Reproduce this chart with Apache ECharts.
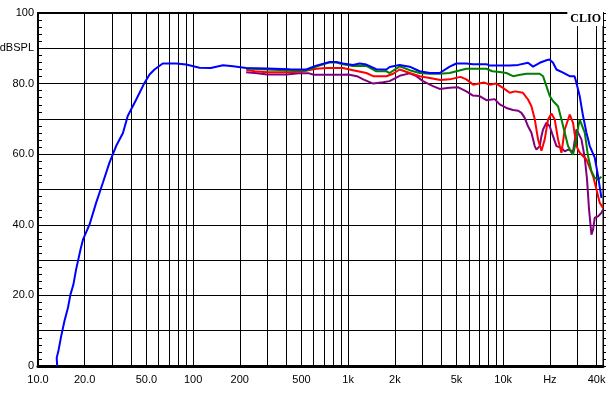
<!DOCTYPE html>
<html>
<head>
<meta charset="utf-8">
<script src="https://cdn.jsdelivr.net/npm/echarts@6/dist/echarts.min.js"></script>
<style>
html,body{margin:0;padding:0;background:#fff;}
#chart{width:610px;height:393px;}
</style>
</head>
<body>
<div id="chart"></div>
<script>
// ---- data (frequency Hz, dB SPL) ----
const blueData = [[13.3,0],[13.2,2.3],[13.6,4.7],[14.1,8.4],[14.8,12.7],[15.6,16.5],[16.2,20.3],[16.9,23],[17.6,27.3],[18.2,30.2],[18.8,33],[19.5,35.8],[21.5,40.1],[23.7,46.2],[26.2,51.9],[28.9,57.6],[31.9,62.3],[35.3,66],[37.9,70.8],[43,75.5],[48.6,80.2],[52.4,82.6],[56.4,84],[63.7,85.7],[78,85.7],[90.2,85.4],[110,84.5],[130,84.4],[156,85.2],[181,84.9],[220,84.4],[300,84.3],[420,84.1],[537,84],[623,85.1],[760,86.1],[840,86.1],[925,85.7],[1074,85.3],[1186,85.7],[1310,85.4],[1520,84.1],[1763,84],[1852,84.7],[2148,85.3],[2494,84.8],[2893,83.5],[3356,83],[3892,83],[4516,84.8],[4989,85.7],[5788,85.7],[6383,85.5],[7792,85.5],[8185,85.1],[9493,85.1],[11013,85.1],[12500,85.3],[14454,85.9],[15570,84.8],[17198,85.9],[18996,86.6],[19953,86.8],[20955,85.9],[22039,84],[24311,83.1],[26853,82.1],[28840,82.1],[29666,80.2],[31153,76.4],[32719,70.8],[34420,66.1],[36152,62.3],[38933,59],[40890,53.8],[43006,47.6]];

const greenData = [[220,84.3],[300,84],[420,83.7],[537,83.7],[623,84.8],[760,86],[840,86],[925,85.5],[1074,85],[1310,85],[1520,83.5],[1763,83.5],[1852,83],[2148,84.9],[2494,83.8],[2893,83],[3356,82.8],[3892,82.8],[4516,83],[4989,83.5],[5788,84.2],[7054,84.2],[7792,84.2],[8500,83.5],[9493,83.3],[10486,83],[11567,82.1],[12880,82.5],[14114,82.8],[17198,82.8],[18062,82.1],[18996,79.3],[19953,76.5],[21000,75],[22568,73.6],[23742,69.8],[24937,66.1],[26189,62.3],[27500,60.5],[28204,59.9],[29666,64.2],[30376,67.5],[31153,69.8],[31952,69.8],[33561,66.1],[35248,59.4],[37068,55.2],[38933,53.3],[40890,52.8],[43006,53.6]];

const redData = [[220,83.9],[250,83.5],[300,83.2],[420,83.2],[500,83.4],[623,84.2],[730,84.4],[925,84.4],[1074,83.8],[1310,83],[1450,82.1],[1763,82.1],[1950,82.8],[2148,84],[2494,83],[2893,82.1],[3356,81.6],[3934,81],[4516,81.2],[5300,81.9],[5788,81.2],[6400,79.7],[7500,80.3],[8185,79.7],[9000,80],[9970,78.8],[11013,77.4],[11950,77.8],[13400,77.4],[14454,75.5],[15204,73.6],[15965,70],[16768,64.2],[17639,61],[18522,64.2],[19452,69.8],[20464,71.5],[21492,69.8],[22568,64.2],[23742,60.4],[24937,67],[26853,71.2],[28204,68.9],[29666,62.3],[31153,60.4],[34420,58.5],[37966,53.8],[39930,50],[41940,46.2],[44000,44.8]];

const purpleData = [[220,83.2],[260,82.9],[300,82.6],[400,82.6],[480,82.9],[560,82.9],[600,82.5],[925,82.5],[1000,82.6],[1140,82.1],[1250,81.2],[1450,80],[1680,80.4],[1850,80.7],[2148,82.2],[2494,82.9],[2754,82.1],[3039,80.7],[3524,79.3],[3892,78.5],[4516,78.8],[5100,79],[5788,77.8],[6383,76.6],[7000,76.5],[7792,75.3],[8800,75.6],[9493,74.1],[10486,73.1],[11567,72.5],[12500,72.3],[13106,71.7],[13764,70.3],[14454,67.9],[15204,66.1],[15965,62.3],[16375,61.3],[16768,61.3],[17198,62.3],[17639,65.1],[18062,67],[18996,68.9],[19953,67.9],[20955,65.1],[22039,62.3],[23742,61.8],[24937,60.8],[26189,61.3],[28204,60.8],[29666,67],[30376,67.5],[31952,64.2],[33561,59],[34721,52.8],[35772,44.3],[37068,37.2],[37966,38.7],[38933,42],[40890,42.4],[43006,43.4],[44000,44.3]];

// x tick labels
const xTickValues = [10, 20, 50, 100, 200, 500, 1000, 2000, 5000, 10000, 20000, 40000];
const xTickLabels = ['10.0', '20.0', '50.0', '100', '200', '500', '1k', '2k', '5k', '10k', 'Hz', '40k'];
// vertical grid line frequencies (1-9 per decade)
const gridDecades = [10, 100, 1000, 10000];
const gridMultipliers = [1, 2, 3, 4, 5, 6, 7, 8, 9];

const X_MIN = 10, X_MAX = 44000;
const FONT = '"Liberation Sans", Arial, sans-serif';

const gridFreqs = [];
gridDecades.forEach(d => gridMultipliers.forEach(m => {
  const f = d * m;
  if (f >= 10 && f <= 40000) gridFreqs.push(f);
}));
const markData = gridFreqs.map(f => {
  const i = xTickValues.indexOf(f);
  return {
    xAxis: f,
    label: { show: i >= 0, formatter: i >= 0 ? xTickLabels[i] : '' }
  };
});

const chart = echarts.init(document.getElementById('chart'), null, { renderer: 'canvas' });

function curve(name, data, color) {
  return {
    name, type: 'line', data, showSymbol: false, symbol: 'none',
    xAxisIndex: 0, yAxisIndex: 0, clip: true, z: 3, animation: false,
    lineStyle: { color, width: 2 }, itemStyle: { color }
  };
}

chart.setOption({
  animation: false,
  backgroundColor: '#fff',
  title: {
    text: 'CLIO', right: 7, top: 12,
    backgroundColor: '#fff', padding: [1, 2, 1, 3],
    textStyle: { fontFamily: '"Liberation Serif", "DejaVu Serif", serif', fontWeight: 'bold', fontSize: 12, color: '#000' }
  },
  grid: { left: 38, right: 7, top: 13, bottom: 27, show: true, borderColor: '#000', borderWidth: 1, containLabel: false, outerBoundsMode: 'none' },
  xAxis: [{
    type: 'log', logBase: 10, min: X_MIN, max: X_MAX, position: 'bottom',
    axisLine: { show: true, onZero: false, lineStyle: { color: '#000', width: 3 } },
    axisTick: { show: false }, axisLabel: { show: false }, splitLine: { show: false }
  }, {
    type: 'log', logBase: 10, min: X_MIN, max: X_MAX, position: 'top',
    axisLine: { show: true, onZero: false, lineStyle: { color: '#000', width: 2 } },
    axisTick: { show: false }, axisLabel: { show: false }, splitLine: { show: false }
  }],
  yAxis: [{
    type: 'value', min: 0, max: 100, interval: 10, position: 'left',
    axisLine: { show: true, onZero: false, lineStyle: { color: '#000', width: 2 } },
    axisTick: { show: true, inside: true, length: 4, lineStyle: { color: '#000' } },
    minorTick: { show: true, splitNumber: 5, length: 4, lineStyle: { color: '#000' } },
    splitLine: { show: true, lineStyle: { color: '#000', width: 1 } },
    axisLabel: {
      fontFamily: FONT, fontSize: 11, color: '#000', margin: 4,
      formatter: v => v === 90 ? 'dBSPL' : (v % 20 !== 0 ? '' : (v === 0 ? '0' : v === 100 ? '100' : v.toFixed(1)))
    }
  }, {
    type: 'value', min: 0, max: 100, interval: 10, position: 'right',
    axisLine: { show: true, onZero: false, lineStyle: { color: '#000', width: 1 } },
    axisTick: { show: true, inside: false, length: 3, lineStyle: { color: '#000' } },
    minorTick: { show: true, splitNumber: 5, length: 3, lineStyle: { color: '#000' } },
    splitLine: { show: false }, axisLabel: { show: false }
  }],
  series: [
    {
      name: 'grid', type: 'line', data: [], xAxisIndex: 0, yAxisIndex: 0, clip: false, z: 1, silent: true,
      markLine: {
        silent: true, symbol: ['none', 'none'], animation: false, z: 1,
        lineStyle: { color: '#000', width: 1, type: 'solid' },
        label: { position: 'start', distance: 8, color: '#000', fontFamily: FONT, fontSize: 11 },
        emphasis: { disabled: true },
        data: markData
      }
    },
    curve('purple', purpleData, '#800080'),
    curve('red', redData, '#ff0000'),
    curve('green', greenData, '#008000'),
    curve('blue', blueData, '#0000ff')
  ]
});
</script>
</body>
</html>
